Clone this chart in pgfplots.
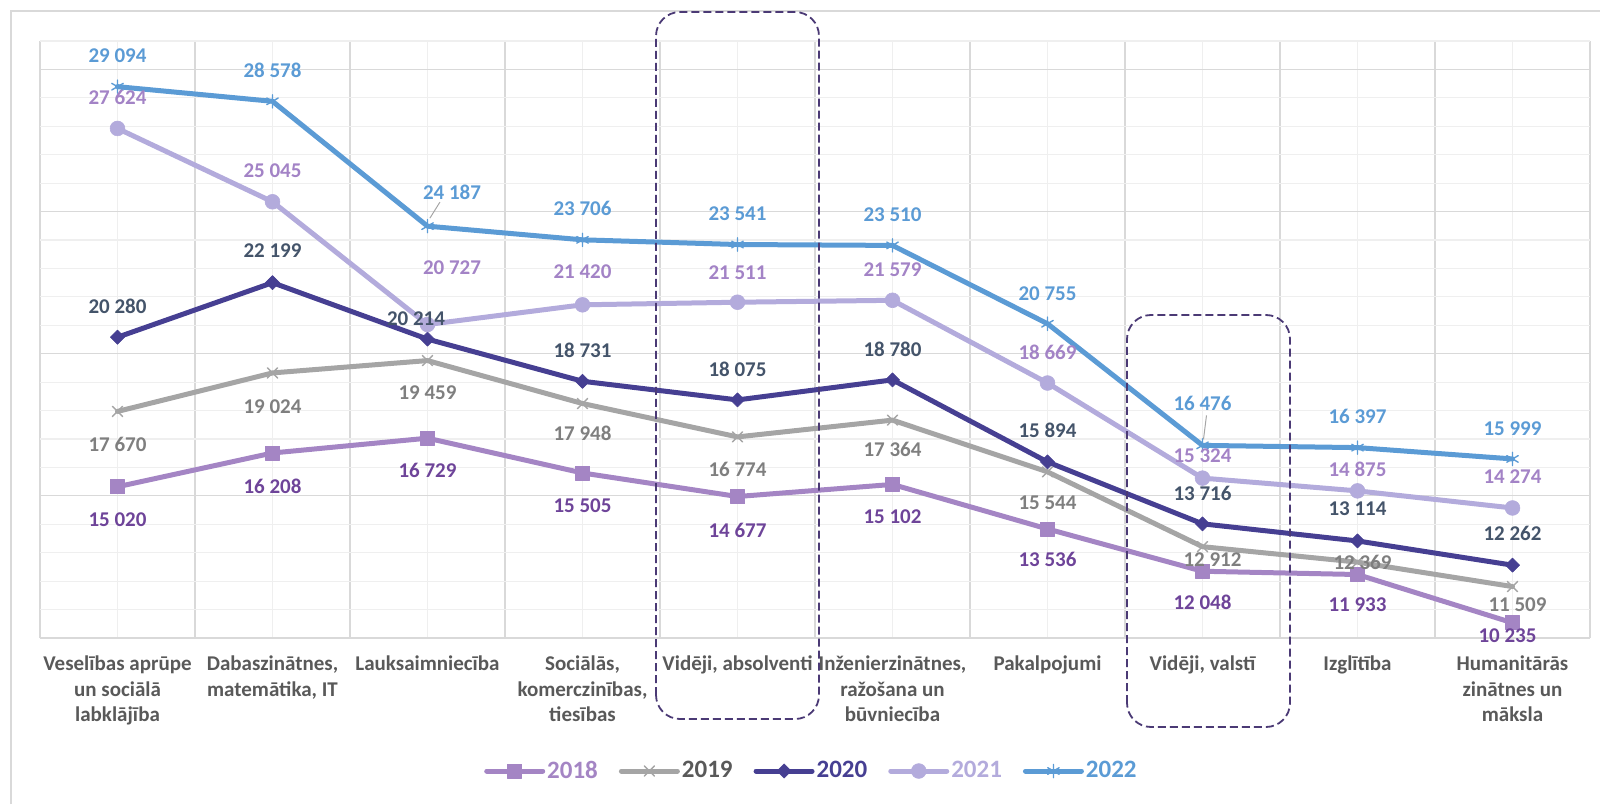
\documentclass[border=0pt]{standalone}
\usepackage{fontspec}
\setmainfont{Carlito}
\usepackage{pgfplots}
\pgfplotsset{compat=1.18}
\usepackage{pgfplotstable}
\definecolor{c18}{HTML}{A485C4}
\definecolor{c18t}{HTML}{6E4499}
\definecolor{c19}{HTML}{A5A5A5}
\definecolor{c19t}{HTML}{7F7F7F}
\definecolor{c19l}{HTML}{595959}
\definecolor{c20}{HTML}{463F92}
\definecolor{c20t}{HTML}{44546A}
\definecolor{c21}{HTML}{B3ABDC}
\definecolor{c21t}{HTML}{A383C6}
\definecolor{c22}{HTML}{5B9BD5}
\definecolor{gmaj}{HTML}{D9D9D9}
\definecolor{gmin}{HTML}{EFEFEF}
\definecolor{boxc}{HTML}{4B3A75}
\definecolor{ticktxt}{HTML}{595959}

\pgfplotstableread{
x y dx dy
0 15020 0 -16.7
1 16208 0 -16.5
2 16729 0 -16.3
3 15505 0 -16.2
4 14677 0 -16.8
5 15102 0 -16
6 13536 0 -15.3
7 12048 0 -15.5
8 11933 0 -15
9 10235 -2.5 -6.5
}\tabA
\pgfplotstableread{
x y dx dy
0 17670 0 -16.5
1 19024 0 -16.7
2 19459 0 -16.2
3 17948 0 -14.8
4 16774 0 -16.5
5 17364 0 -14.8
6 15544 0 -15.3
7 12912 5 -6.5
8 12369 2.5 0
9 11509 2.5 -9
}\tabB
\pgfplotstableread{
x y dx dy
0 20280 0 15.5
1 22199 0 15.8
2 20214 -5.75 10.2
3 18731 0 15.5
4 18075 0 15.5
5 18780 0 15.2
6 15894 0 16
7 13716 0 15.2
8 13114 0 16
9 12262 0 16
}\tabC
\pgfplotstableread{
x y dx dy
0 27624 0 15.5
1 25045 0 15.5
2 20727 12.25 28.5
3 21420 0 16.5
4 21511 0 15
5 21579 0 15.5
6 18669 0 15.5
7 15324 0 11.2
8 14875 0 10.8
9 14274 0 15.5
}\tabD
\pgfplotstableread{
x y dx dy
0 29094 0 15.5
1 28578 0 15.5
2 24187 12.25 17
3 23706 0 15.5
4 23541 0 15.5
5 23510 0 15.5
6 20755 0 15
7 16476 0 21
8 16397 0 15.5
9 15999 0 15
}\tabE

\newcommand{\labfont}{\fontsize{10.5}{12}\selectfont\bfseries}
\pgfplotsset{
  labplot/.style={draw=none, mark=none, forget plot,
    visualization depends on={\thisrow{dx} \as \labdx},
    visualization depends on={\thisrow{dy} \as \labdy},
    point meta=y,
    nodes near coords={\pgfmathprintnumber[fixed, precision=0, 1000 sep={\ }, assume math mode=true]{\pgfplotspointmeta}},
    every node near coord/.style={anchor=center, xshift=\labdx pt, yshift=\labdy pt, text=#1, font=\labfont, inner sep=0pt}},
  serie/.style={line width=2.5pt, line join=round, line cap=round},
}

\begin{document}
\begin{tikzpicture}
\useasboundingbox (0,0) rectangle (800pt,402pt);
\draw[gmaj, line width=0.75pt] (5.5pt,0) -- (5.5pt,396.5pt) -- (800pt,396.5pt);
\begin{axis}[
  at={(20pt,83pt)}, anchor=south west,
  scale only axis, width=775pt, height=298.5pt,
  clip=false,
  scaled y ticks=false,
  xmin=-0.5, xmax=9.5, ymin=9700, ymax=30700,
  xtick={0,...,9},
  xticklabels={{Veselības aprūpe\\un sociālā\\labklājība},{Dabaszinātnes,\\matemātika, IT},{Lauksaimniecība},{Sociālās,\\komerczinības,\\tiesības},{Vidēji, absolventi},{Inženierzinātnes,\\ražošana un\\būvniecība},{Pakalpojumi},{Vidēji, valstī},{Izglītība},{Humanitārās\\zinātnes un\\māksla}},
  minor xtick={-0.5,0.5,...,9.5},
  ytick={9700,14700,19700,24700,29700},
  minor ytick={10700,11700,12700,13700,15700,16700,17700,18700,20700,21700,22700,23700,25700,26700,27700,28700,30700},
  yticklabels={},
  major tick length=0pt, minor tick length=0pt,
  xmajorgrids, xminorgrids, ymajorgrids, yminorgrids,
  major x grid style={gmin, line width=0.6pt},
  minor x grid style={gmaj, line width=0.6pt},
  major y grid style={gmaj, line width=0.6pt},
  minor y grid style={gmin, line width=0.6pt},
  axis line style={draw=none},
  xticklabel style={font=\fontsize{10.5}{12.75}\selectfont\bfseries, text=ticktxt, align=center, anchor=north, yshift=-5.5pt},
  legend columns=5,
  legend style={at={(0.4977,-0.2228)}, anchor=center, draw=none, fill=none,
    font=\fontsize{12.5}{15}\selectfont\bfseries,
    /tikz/every even column/.append style={column sep=9.5pt},
    nodes={inner sep=1pt}},
  legend cell align=left,
  legend image code/.code={\draw[mark repeat=2, mark phase=2] plot coordinates {(0pt,0pt) (14pt,0pt) (28pt,0pt)};},
]
\addplot[serie, c18, mark=square*, mark size=3.5pt, mark options={solid, fill=c18, draw=c18, line width=0.3pt}] table[x=x,y=y]{\tabA};
\addlegendentry[text=c18]{2018}
\addplot[serie, c19, mark=x, mark size=3.6pt, mark options={solid, draw=c19, line width=0.7pt}] table[x=x,y=y]{\tabB};
\addlegendentry[text=c19l]{2019}
\addplot[serie, c20, mark=square*, mark size=2.5pt, mark options={solid, rotate=45, fill=c20, draw=c20, line width=0.3pt}] table[x=x,y=y]{\tabC};
\addlegendentry[text=c20]{2020}
\addplot[serie, c21, mark=*, mark size=3.7pt, mark options={solid, fill=c21, draw=c21, line width=0.3pt}] table[x=x,y=y]{\tabD};
\addlegendentry[text=c21]{2021}
\addplot[serie, c22, mark=asterisk, mark size=3.3pt, mark options={solid, draw=c22, line width=0.7pt}] table[x=x,y=y]{\tabE};
\addlegendentry[text=c22]{2022}

\addplot[labplot=c18t] table[x=x,y=y]{\tabA};
\addplot[labplot=c19t] table[x=x,y=y]{\tabB};
\addplot[labplot=c20t] table[x=x,y=y]{\tabC};
\addplot[labplot=c21t] table[x=x,y=y]{\tabD};
\addplot[labplot=c22] table[x=x,y=y]{\tabE};

\draw[c19, line width=0.5pt] (axis cs:2,24187) ++(1.2pt,4pt) -- ++(5pt,8pt);
\draw[c19, line width=0.5pt] (axis cs:7,16476) ++(0.5pt,3pt) -- ++(1.5pt,12pt);
\end{axis}
\draw[boxc, line width=0.9pt, dash pattern=on 4pt off 2pt, rounded corners=12pt] (328pt,42.5pt) rectangle (409.5pt,396pt);
\draw[boxc, line width=0.9pt, dash pattern=on 4pt off 2pt, rounded corners=12pt] (563.5pt,38.5pt) rectangle (645pt,244.5pt);
\end{tikzpicture}
\end{document}
